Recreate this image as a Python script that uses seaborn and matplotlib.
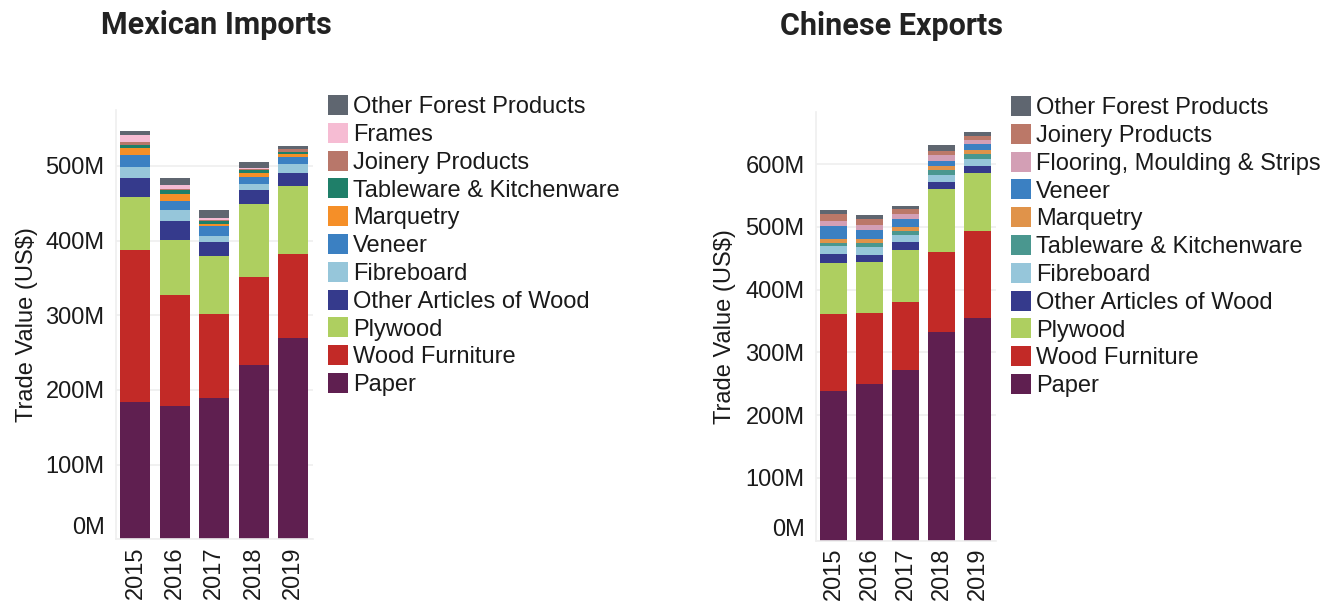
import matplotlib
matplotlib.use("Agg")
import matplotlib.pyplot as plt
from matplotlib.patches import Patch
from matplotlib.ticker import FixedLocator, FuncFormatter
import numpy as np
import pandas as pd
import seaborn as sns

years = ["2015", "2016", "2017", "2018", "2019"]

# Mexican imports, US$ millions, stacked bottom -> top
mx_categories = ["Paper", "Wood Furniture", "Plywood", "Other Articles of Wood",
                 "Fibreboard", "Veneer", "Marquetry", "Tableware & Kitchenware",
                 "Joinery Products", "Frames", "Other Forest Products"]
mx_paper = [183.8, 178.4, 189.2, 232.9, 269.5]
mx_furniture = [203.5, 148.6, 112.4, 117.8, 112.4]
mx_plywood = [70.9, 73.7, 77.6, 98.2, 91.0]
mx_other_articles = [25.5, 25.4, 18.7, 18.7, 17.5]
mx_fibreboard = [14.7, 14.7, 8.0, 8.0, 12.0]
mx_veneer = [16.1, 12.1, 13.4, 9.4, 9.4]
mx_marquetry = [9.3, 9.4, 3.2, 5.4, 4.0]
mx_tableware = [4.0, 5.7, 3.6, 4.0, 3.1]
mx_joinery = [4.1, 0.8, 1.3, 1.3, 3.2]
mx_frames = [9.3, 5.2, 2.7, 1.4, 0.6]
mx_other_forest = [5.4, 9.4, 10.7, 8.0, 3.8]
mx_colors = ["#5f1f50", "#c22a27", "#aecf60", "#353a8c", "#96c6da", "#3b80c2",
             "#f58f28", "#1f7f69", "#b8776a", "#f6bcd3", "#5f6670"]

# Chinese exports, US$ millions, stacked bottom -> top
cn_categories = ["Paper", "Wood Furniture", "Plywood", "Other Articles of Wood",
                 "Fibreboard", "Tableware & Kitchenware", "Marquetry", "Veneer",
                 "Flooring, Moulding & Strips", "Joinery Products",
                 "Other Forest Products"]
cn_paper = [238.4, 249.6, 272.0, 332.5, 354.9]
cn_furniture = [122.8, 113.2, 108.4, 127.6, 138.7]
cn_plywood = [81.4, 81.4, 82.9, 100.5, 92.5]
cn_other_articles = [14.4, 11.1, 12.8, 11.2, 11.2]
cn_fibreboard = [12.7, 12.8, 11.1, 11.2, 11.2]
cn_tableware = [4.7, 6.3, 6.4, 7.9, 7.9]
cn_marquetry = [6.5, 6.5, 6.4, 6.4, 6.4]
cn_veneer = [20.7, 14.3, 12.8, 8.0, 9.6]
cn_flooring = [8.0, 8.0, 7.9, 9.5, 6.4]
cn_joinery = [11.1, 9.6, 8.0, 6.4, 6.3]
cn_other_forest = [6.4, 6.3, 4.8, 9.6, 6.4]
cn_colors = ["#5f1f50", "#c22a27", "#aecf60", "#353a8c", "#96c6da", "#4a978f",
             "#e0934a", "#3b80c2", "#d39fb5", "#bb7868", "#5f6670"]

mx_series = [mx_paper, mx_furniture, mx_plywood, mx_other_articles, mx_fibreboard,
             mx_veneer, mx_marquetry, mx_tableware, mx_joinery, mx_frames,
             mx_other_forest]
cn_series = [cn_paper, cn_furniture, cn_plywood, cn_other_articles, cn_fibreboard,
             cn_tableware, cn_marquetry, cn_veneer, cn_flooring, cn_joinery,
             cn_other_forest]

sns.set_theme(style="white")
plt.rcParams["font.family"] = ["Liberation Sans", "DejaVu Sans"]

W, H = 1340, 607
fig = plt.figure(figsize=(W / 100, H / 100), dpi=100)

GRID = "#efefef"
TEXT = "#1a1a1a"
FS = 17


def px_box(x0, x1, y0, y1):
    return [x0 / W, 1 - y1 / H, (x1 - x0) / W, (y1 - y0) / H]


def stacked_panel(ax, categories, series, colors, ticks, ymax, bar_width,
                  ylabel_x, legend_xy):
    df = pd.DataFrame({"year": np.repeat(years, len(categories)),
                       "category": categories * len(years)})
    values = np.array(series).T.ravel()
    df["value"] = values
    df["cum"] = df.groupby("year")["value"].cumsum()

    # draw cumulative totals from the top layer down so each layer shows its slice
    for cat, col in reversed(list(zip(categories, colors))):
        sub = df[df["category"] == cat]
        sns.barplot(data=sub, x="year", y="cum", order=years, color=col,
                    width=bar_width, saturation=1, linewidth=0, ax=ax,
                    errorbar=None)

    ax.set_xlim(-0.5, len(years) - 0.5)
    ax.set_ylim(0, ymax)
    ax.yaxis.set_major_locator(FixedLocator(ticks))
    ax.yaxis.set_major_formatter(FuncFormatter(lambda v, p: f"{v:.0f}M"))
    ax.grid(axis="y", color=GRID, linewidth=1.2)
    ax.set_axisbelow(True)
    for s in ["top", "right"]:
        ax.spines[s].set_visible(False)
    for s in ["left", "bottom"]:
        ax.spines[s].set_color(GRID)
        ax.spines[s].set_linewidth(1.2)

    ax.tick_params(axis="y", length=0, pad=8, labelsize=FS, labelcolor=TEXT)
    ax.tick_params(axis="x", which="major", length=0, pad=5, labelsize=FS,
                   labelcolor=TEXT, rotation=90)
    ax.set_xticks(np.arange(-0.5, len(years)), minor=True)
    ax.tick_params(axis="x", which="minor", length=6, width=1.2, color=GRID)
    for lab in ax.get_xticklabels():
        lab.set_verticalalignment("top")
    # keep the bottom label inside the axis extent
    ylabels = ax.get_yticklabels()
    ylabels[0].set_verticalalignment("bottom")

    ax.set_xlabel("")
    ax.set_ylabel("Trade Value (US$)", fontsize=FS, color=TEXT)
    ax.yaxis.set_label_coords(ylabel_x, 0.5)

    handles = [Patch(facecolor=c, edgecolor="none", label=l)
               for l, c in zip(categories, colors)][::-1]
    fig.legend(handles=handles, loc="upper left",
               bbox_to_anchor=(legend_xy[0] / W, 1 - legend_xy[1] / H),
               frameon=False, fontsize=FS, handlelength=0.85, handleheight=0.92,
               handletextpad=0.22, labelspacing=0.2, borderpad=0,
               borderaxespad=0, labelcolor=TEXT)


ax1 = fig.add_axes(px_box(115.7, 313, 110, 539.3))
stacked_panel(ax1, mx_categories, mx_series, mx_colors,
              [0, 100, 200, 300, 400, 500], 575, 0.76,
              (38 - 115.7) / 197.3, (328, 95))

ax2 = fig.add_axes(px_box(815.7, 996, 112, 540.5))
stacked_panel(ax2, cn_categories, cn_series, cn_colors,
              [0, 100, 200, 300, 400, 500, 600], 683, 0.75,
              (736 - 815.7) / 180.3, (1011, 96))

title_kw = dict(fontsize=22, fontweight="bold", color="#222222",
                ha="center", va="center", family=["Roboto", "DejaVu Sans"])
fig.text(216 / W, 1 - 25 / H, "Mexican Imports", **title_kw)
fig.text(892 / W, 1 - 26 / H, "Chinese Exports", **title_kw)

fig.savefig("out.png", dpi=100)
